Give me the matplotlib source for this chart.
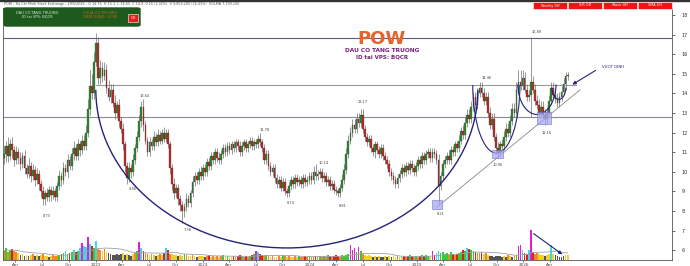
import matplotlib
matplotlib.use("Agg")
import matplotlib.pyplot as plt
from matplotlib.patches import Rectangle, Arc, FancyBboxPatch
import numpy as np
import pandas as pd

# weekly POW candles, first week 22/02/2021
start = pd.Timestamp("2021-02-22")
close = [
    10.9, 11.3, 10.8, 11.4, 11.1, 10.6, 11.0, 10.7, 10.4, 10.8,
    10.2, 9.9, 10.3, 9.8, 10.1, 9.6, 9.9, 9.4, 9.0, 8.6,
    8.9, 8.7, 9.1, 8.8, 9.0, 8.7, 9.3, 9.8, 9.6, 10.2,
    10.0, 10.6, 10.3, 10.9, 11.2, 10.8, 11.4, 11.1, 11.6, 11.3,
    12.0, 13.2, 14.4, 14.0, 15.6, 16.6, 14.8, 15.3, 14.9, 15.2,
    14.3, 13.8, 14.2, 13.5, 13.0, 13.4, 12.6, 12.2, 11.4, 10.3,
    9.7, 10.2, 10.0, 10.6, 11.2, 11.8, 12.6, 13.3, 12.4, 11.6,
    11.0, 11.5, 11.3, 11.8, 11.5, 11.9, 11.6, 12.0, 11.7, 12.0,
    11.4, 10.2, 9.4, 8.9, 9.2, 8.6, 8.3, 8.0, 8.2, 8.6,
    8.4, 8.9, 9.5, 9.8, 9.6, 10.0, 9.8, 10.2, 10.0, 10.5,
    10.3, 10.8, 10.6, 11.0, 10.7, 10.6, 10.9, 11.2, 11.0, 11.3,
    11.1, 11.4, 11.2, 11.5, 11.3, 11.0, 11.3, 11.5, 11.2, 11.4,
    11.6, 11.3, 11.5, 11.4, 11.7, 11.5, 11.2, 10.6, 10.9, 10.3,
    10.0, 10.2, 9.7, 9.4, 9.6, 9.2, 9.5, 9.0, 8.9, 9.3,
    9.6, 9.4, 9.7, 9.5, 9.6, 9.4, 9.7, 9.5, 9.6, 9.8,
    9.6, 10.0, 9.8, 9.9, 10.0, 9.7, 9.8, 9.5, 9.6, 9.3,
    9.4, 9.1, 9.0, 8.9, 9.2, 9.6, 10.1, 10.9, 11.6, 12.0,
    12.4, 12.2, 12.7, 12.5, 12.9, 12.2, 11.8, 11.5, 11.7, 11.2,
    11.0, 11.4, 11.1, 10.9, 11.2, 10.8, 10.6, 10.4, 10.0, 9.8,
    9.6, 9.4, 9.7, 9.9, 10.2, 10.0, 10.3, 10.1, 10.4, 10.2,
    10.0, 10.3, 10.6, 10.4, 10.8, 10.6, 10.9, 11.0, 10.7, 11.0,
    10.9, 10.6, 9.3, 9.8, 10.4, 10.6, 10.8, 10.6, 11.1, 11.0,
    11.4, 11.2, 11.6, 12.1, 11.9, 12.5, 12.9, 12.7, 13.3, 13.8,
    13.4, 14.0, 14.3, 14.0, 13.6, 13.8, 13.0, 12.4, 12.7, 11.8,
    11.2, 11.0, 11.4, 11.3, 11.8, 12.2, 12.0, 12.6, 13.2, 13.0,
    14.2, 14.6, 14.4, 14.8, 14.2, 13.8, 13.9, 14.6, 14.2, 13.6,
    13.4, 13.0, 13.3, 12.9, 12.7, 13.0, 13.6, 14.3, 13.9, 13.7,
    13.5, 13.8, 14.1, 14.5, 14.9, 14.9,
]
first_open = 10.7
# wicks in tenths of a point
up_wick = [
    4, 3, 5, 3, 4, 2, 3, 2, 3, 2,  3, 2, 4, 2, 3, 2, 3, 2, 2, 3,
    2, 3, 2, 2, 3, 2, 2, 3, 2, 3,  2, 3, 2, 3, 4, 2, 3, 2, 3, 3,
    4, 5, 8, 6, 5, 5, 3, 4, 3, 4,  3, 4, 3, 3, 4, 2, 3, 2, 3, 2,
    2, 3, 2, 3, 2, 3, 3, 3, 4, 2,  2, 3, 2, 3, 2, 3, 2, 2, 3, 2,
    2, 2, 2, 3, 2, 2, 2, 2, 2, 3,  2, 2, 3, 2, 2, 2, 3, 2, 2, 2,
    2, 2, 2, 2, 2, 3, 2, 2, 2, 2,  2, 2, 2, 2, 2, 3, 2, 2, 2, 2,
    2, 2, 2, 2, 2, 3, 2, 2, 2, 2,  2, 2, 2, 2, 2, 2, 2, 2, 2, 2,
    2, 2, 2, 2, 2, 2, 2, 2, 2, 2,  2, 3, 4, 2, 2, 2, 2, 2, 2, 2,
    2, 2, 2, 2, 2, 3, 3, 3, 3, 3,  3, 3, 3, 3, 3, 3, 2, 2, 2, 2,
    2, 2, 2, 2, 2, 2, 2, 2, 2, 2,  2, 2, 2, 2, 2, 2, 2, 2, 2, 2,
    2, 2, 2, 2, 2, 2, 2, 2, 2, 2,  2, 2, 3, 2, 2, 2, 2, 3, 2, 2,
    2, 2, 3, 2, 3, 3, 3, 3, 3, 3,  3, 3, 3, 3, 3, 3, 3, 3, 3, 3,
    2, 3, 2, 3, 3, 3, 3, 3, 3, 3,  4, 6, 6, 4, 3, 3, 3, 23, 3, 3,
    3, 3, 3, 3, 3, 3, 3, 3, 3, 3,  3, 3, 3, 3, 2, 2,
]
down_wick = [
    3, 4, 3, 2, 4, 3, 2, 3, 3, 2,  3, 2, 2, 3, 2, 3, 2, 3, 3, 3,
    3, 2, 2, 3, 2, 2, 2, 2, 3, 2,  2, 3, 2, 2, 3, 2, 2, 3, 2, 2,
    2, 2, 3, 3, 3, 2, 3, 3, 3, 2,  3, 2, 3, 2, 3, 2, 3, 2, 3, 3,
    3, 2, 3, 2, 2, 2, 2, 3, 3, 2,  2, 2, 2, 2, 2, 2, 2, 2, 2, 2,
    2, 3, 3, 3, 2, 3, 3, 6, 3, 2,  2, 2, 2, 2, 2, 2, 2, 2, 2, 2,
    2, 2, 2, 2, 2, 2, 2, 2, 2, 2,  2, 2, 2, 2, 2, 2, 2, 2, 2, 2,
    2, 2, 2, 2, 2, 2, 2, 2, 2, 2,  2, 2, 2, 2, 2, 2, 2, 2, 2, 2,
    2, 2, 2, 2, 2, 2, 2, 2, 2, 2,  2, 2, 2, 2, 2, 2, 2, 2, 2, 2,
    2, 2, 2, 2, 2, 2, 2, 2, 2, 2,  2, 2, 2, 2, 2, 2, 2, 2, 2, 2,
    2, 3, 2, 2, 2, 2, 2, 2, 2, 2,  2, 2, 2, 2, 2, 2, 2, 2, 2, 2,
    2, 2, 2, 2, 2, 2, 2, 2, 2, 2,  2, 2, 10, 2, 2, 2, 2, 2, 2, 2,
    2, 2, 2, 2, 2, 2, 2, 2, 2, 2,  2, 2, 2, 2, 2, 2, 2, 2, 2, 2,
    3, 3, 2, 2, 2, 2, 2, 2, 2, 2,  2, 2, 2, 2, 2, 2, 2, 11, 2, 2,
    2, 2, 2, 2, 3, 2, 2, 2, 2, 2,  2, 2, 2, 2, 3, 2,
]
# volume, millions of shares
volume = [
    9, 12, 8, 10, 11, 9, 8, 7, 5, 6,  4, 5, 4, 5, 6, 4, 5, 4, 5, 6,
    4, 4, 3, 4, 5, 4, 4, 5, 6, 7,  9, 6, 7, 8, 10, 8, 9, 12, 17, 14,
    13, 23, 16, 14, 12, 19, 11, 10, 9, 11,  8, 7, 6, 5, 5, 6, 5, 6, 7, 5,
    6, 5, 4, 6, 7, 9, 18, 12, 9, 7,  6, 5, 6, 5, 4, 5, 6, 5, 7, 12,
    10, 6, 6, 5, 5, 4, 5, 4, 6, 5,  4, 4, 5, 4, 3, 4, 4, 4, 3, 4,
    5, 3, 4, 3, 4, 3, 4, 5, 3, 4,  3, 3, 4, 3, 4, 5, 4, 3, 4, 3,
    4, 5, 6, 9, 8, 6, 5, 4, 5, 4,  3, 4, 3, 3, 4, 3, 5, 4, 3, 4,
    3, 3, 4, 3, 4, 3, 3, 4, 3, 4,  3, 3, 4, 3, 4, 3, 4, 3, 5, 4,
    3, 4, 5, 4, 3, 5, 4, 5, 6, 15,  10, 12, 8, 13, 9, 6, 5, 4, 5, 4,
    3, 4, 3, 4, 3, 3, 4, 3, 4, 3,  4, 3, 4, 3, 3, 4, 3, 4, 5, 4,
    3, 4, 3, 4, 5, 4, 5, 4, 3, 9,  5, 7, 9, 7, 8, 6, 7, 5, 8, 6,
    5, 6, 7, 8, 10, 9, 12, 11, 10, 9,  8, 7, 7, 8, 6, 7, 5, 4, 4, 3,
    4, 4, 4, 3, 4, 3, 5, 4, 3, 4,  5, 14, 15, 10, 7, 6, 10, 30, 8, 6,
    7, 6, 5, 5, 4, 5, 6, 15, 6, 5,  4, 3, 3, 4, 5, 5,
]
assert len(close) == len(up_wick) == len(down_wick) == len(volume)

price_ticks = [6, 7, 8, 9, 10, 11, 12, 13, 14, 15, 16, 17, 18]
level_labels = [("8.73", 21, 7.74), ("13.64", 68.8, 13.87), ("9.46", 63, 9.12),
                ("7.38", 89.8, 7.04), ("11.78", 127.3, 12.14), ("8.74", 140, 8.4),
                ("10.14", 156, 10.45), ("8.81", 165.4, 8.26), ("13.17", 175, 13.57),
                ("8.21", 213, 7.85), ("14.46", 235.6, 14.79), ("10.96", 241, 10.35),
                ("16.89", 260, 17.14), ("12.16", 265, 11.98)]

W, H = 690, 266
def fx(x): return x / W
def fy(y): return 1 - y / H

c = np.array(close)
o = np.r_[first_open, c[:-1]]
hi = np.maximum(o, c) + np.array(up_wick) / 10
lo = np.minimum(o, c) - np.array(down_wick) / 10
wk = np.arange(len(c))
up = c >= o

fig = plt.figure(figsize=(6.9, 2.66), dpi=100)
rect = [fx(3), fy(260), (672 - 3) / W, (260 - 8) / H]
axv = fig.add_axes(rect)
ax = fig.add_axes(rect, sharex=axv)
ax.patch.set_visible(False)

# volume at the bottom
vol = pd.Series(volume, dtype=float)
ma = vol.rolling(20, min_periods=1).mean()
ratio = vol / ma
vcol = []
for r, u in zip(ratio, up):
    if r > 2.0: vcol.append("#e020c8")
    elif r > 1.6: vcol.append("#40d8e8")
    elif r > 1.0: vcol.append("#33cc33" if u else "#e02020")
    elif r > 0.8: vcol.append("#f08a2a")
    elif r > 0.6: vcol.append("#f0d030")
    else: vcol.append("#555555")
axv.bar(wk, vol, width=0.85, color=vcol, lw=0)
axv.plot(wk, ma, color="#a0a0a0", lw=0.6)
axv.set_ylim(0, 252)
axv.axis("off")
axv.annotate("", xy=(273.5, 4), xytext=(257.3, 28),
             arrowprops=dict(arrowstyle="-|>", color="#23237a", lw=0.8, mutation_scale=5))

# candles
ax.vlines(wk, lo, hi, color="#6e6e6e", lw=0.5, zorder=2)
ax.bar(wk, np.maximum(np.abs(c - o), 0.06), bottom=np.minimum(o, c), width=0.85,
       color=np.where(up, "#2e8b2e", "#c62828"), edgecolor="#303030", lw=0.2, zorder=3)

ax.set_xlim(-0.49, 325.9)
ax.set_ylim(5.505, 18.36)

# levels, cups, trend line
ax.axhline(16.85, color="#5c5c8c", lw=0.8, zorder=1)
ax.plot([45, 279], [14.45, 14.45], color="#9a9a9a", lw=0.8, zorder=1)
ax.axhline(12.8, color="#8a8a9a", lw=0.8, zorder=1)
navy = "#23237a"
for cx, cy, a, b, lw in [(138.0, 14.18, 93.2, 8.06, 1.0), (240.2, 14.43, 11.5, 3.47, 0.8),
                         (260.0, 14.46, 9.3, 1.53, 0.8), (270.7, 14.3, 3.4, 0.6, 0.8)]:
    ax.add_patch(Arc((cx, cy), 2 * a, 2 * b, theta1=180, theta2=360, color=navy, lw=lw, zorder=4))
ax.plot([211.2, 281], [8.2, 14.18], color="#888888", lw=0.6, zorder=4)
for x0, y0, w_, h_ in [(208.8, 8.1, 4.9, 0.46), (238, 10.7, 5.4, 0.42), (260, 12.44, 6.8, 0.62)]:
    ax.add_patch(Rectangle((x0, y0), w_, h_, fc="#a8a8f0", ec="#6c6cd0", alpha=0.75, lw=0.5, zorder=5))
for t, x, y in level_labels:
    ax.text(x, y, t, fontsize=2.6, color="#444444", ha="center", va="center")
ax.annotate("", xy=(276.1, 14.38), xytext=(289.8, 15.25),
            arrowprops=dict(arrowstyle="-|>", color=navy, lw=0.8, mutation_scale=5))
ax.text(291.7, 15.35, "VUOT DINH", fontsize=2.8, color=navy, ha="left", va="center")

# axes
ax.yaxis.tick_right()
ax.set_yticks(price_ticks)
ax.tick_params(axis="y", labelsize=3.5, length=2, width=0.5, pad=5, colors="#333333")
qs = pd.date_range("2021-04-01", "2026-04-01", freq="QS")
ax.set_xticks([(d - start).days / 7 for d in qs])
ax.set_xticklabels([str(d.year) if d.month == 1 else d.strftime("%b") for d in qs])
ax.tick_params(axis="x", labelsize=3, length=1.5, width=0.5, pad=0.8, colors="#444444")
for s in ["left", "right", "bottom"]:
    ax.spines[s].set_color("#555555")
    ax.spines[s].set_linewidth(0.6)
ax.spines["top"].set_visible(False)

# titles
fig.text(fx(382), fy(38.5), "POW", fontsize=13, fontweight="bold", color="#e8622a", ha="center", va="center")
fig.text(fx(382), fy(50), "DAU CO TANG TRUONG", fontsize=4.2, fontweight="bold", color="#7a1f7a", ha="center", va="center")
fig.text(fx(382), fy(57), "ID tai VPS: BQCR", fontsize=4, fontweight="bold", color="#7a1f7a", ha="center", va="center")

# header strip and panels
fig.add_artist(Rectangle((0, fy(1.2)), 1, 1.2 / H, transform=fig.transFigure, color="#333333"))
fig.text(fx(4), fy(4.5), "POW - Ho Chi Minh Stock Exchange - 29/5/2026 - O 14.75  H 15.1  L 14.65  C 14.9  0.15 (1.02%)  V 9,859,200 (26.43%)  VOLMA 7,799,100",
         fontsize=2.4, color="#555555", ha="left", va="center")
fig.add_artist(FancyBboxPatch((fx(4), fy(26)), (140 - 4) / W, 18 / H, boxstyle="round,pad=0,rounding_size=0.004",
                              transform=fig.transFigure, fc="#1e5a1e", ec="#1e5a1e"))
fig.text(fx(37), fy(12.5), "DAU CO TANG TRUONG", fontsize=2.6, color="#d8ecd8", ha="center", va="center")
fig.text(fx(37), fy(17), "ID tai VPS: BQCR", fontsize=2.6, color="#d8ecd8", ha="center", va="center")
fig.text(fx(100), fy(12.5), "CHUA CO TIN HIEU", fontsize=2.6, color="#c86a1e", ha="center", va="center")
fig.text(fx(100), fy(17), "DIEM DUNG: 12.80", fontsize=2.6, color="#c86a1e", ha="center", va="center")
fig.add_artist(Rectangle((fx(128), fy(22)), 10 / W, 8 / H, transform=fig.transFigure, fc="#e61e1e", ec="#ffffff", lw=0.4))
fig.text(fx(133), fy(18), "Off", fontsize=2.4, color="white", ha="center", va="center")
for i, t in enumerate(["Weekly Off", "S/R Off", "Wave Off", "SMA Off"]):
    x0 = 533 + i * 35
    fig.add_artist(Rectangle((fx(x0), fy(9)), 34 / W, 7 / H, transform=fig.transFigure, fc="#f01414", ec="#ffffff", lw=0.4))
    fig.text(fx(x0 + 17), fy(5.5), t, fontsize=2.4, color="white", ha="center", va="center")

fig.savefig("out.png", dpi=100)
